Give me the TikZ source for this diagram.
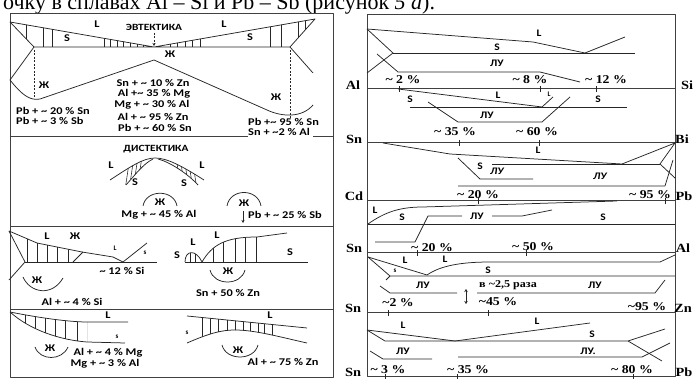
\documentclass[tikz,border=0pt]{standalone}
\usepackage{fontspec}
\setmainfont{Carlito}
\newfontfamily\timesfont{Liberation Serif}
\usetikzlibrary{arrows.meta}
\newcommand{\tld}{\textasciitilde}

\tikzset{
  txt/.style={font=\bfseries\fontsize{10.3}{10.3}\selectfont, inner sep=0pt, xscale=1.2},
  sm/.style={font=\bfseries\fontsize{7}{7}\selectfont, inner sep=0pt},
  elem/.style={font=\timesfont\bfseries\fontsize{12.5}{12.5}\selectfont, inner sep=0pt, xscale=1.15},
  pct/.style={font=\timesfont\bfseries\fontsize{12}{12}\selectfont, inner sep=0pt, xscale=1.15},
  zone/.style={font=\bfseries\fontsize{10}{10}\selectfont, inner sep=0pt, xscale=1.15},
  frm/.style={line width=1pt, black!75},
  crv/.style={line width=0.75pt, black!85},
  htc/.style={line width=0.55pt, black!85},
  dsh/.style={crv, dash pattern=on 2pt off 1.5pt},
}

\begin{document}
\begin{tikzpicture}[x=1pt, y=-1pt, line join=round]
  \useasboundingbox (0,0) rectangle (697,379);
  \clip (0,0) rectangle (697,379);
  \node[font=\timesfont\fontsize{22}{22}\selectfont, anchor=base west, inner sep=0pt] (caption) at (3,10) {очку в сплавах Al – Si и Pb – Sb (рисунок \textit{5 а}).};

  \draw[frm] (10,14) rectangle (333,378);
  \draw[frm] (10,137) -- (248,137) (313,137) -- (333,137);
  \draw[frm] (10,227) -- (333,227);
  \draw[frm] (10,310) -- (333,310);

  \draw[crv] (10,22) -- (154,47) -- (315,19) -- (290,47) -- (34,47) -- cycle;
  \draw[crv] (34,47) -- (10,80);
  \draw[crv] (290,47) -- (313,73);
  \draw[crv] (10,80) .. controls (22,95) and (30,101) .. (40,99) -- (154,60) -- (267,110) .. controls (282,117) and (302,118) .. (313,105);
  \draw[dsh] (34,50) -- (34,99);
  \draw[dsh] (290,50) -- (290,120);
  \draw[dsh, -{Stealth[length=3pt,width=3pt]}] (154,33) -- (154,46);
  \begin{scope}
    \clip (10,22) -- (154,47) -- (34,47) -- cycle;
    \foreach \x in {26,43,52,104,110,117,123,130,137,143}
      \draw[htc] (\x,15) -- (\x,50);
  \end{scope}
  \begin{scope}
    \clip (315,19) -- (154,47) -- (290,47) -- cycle;
    \foreach \x in {170,177,185,192,200,270,281,298,305}
      \draw[htc] (\x,15) -- (\x,50);
  \end{scope}
  \node[txt, font=\bfseries\fontsize{9.5}{9.5}\selectfont] (eut) at (154,27) {ЭВТЕКТИКА};
  \node[txt] (liqa) at (97,24) {L};
  \node[txt] (sola) at (67,38) {S};
  \node[txt] (liqb) at (224,24) {L};
  \node[txt] (solb) at (250,37) {S};
  \node[txt] (zha) at (170,54) {Ж};
  \node[txt] (zhb) at (44,85) {Ж};
  \node[txt] (zhc) at (276,97) {Ж};
  \node[txt, anchor=west] (pbsn) at (16,111) {Pb + \tld{} 20 \% Sn};
  \node[txt, anchor=west] (pbsb) at (16,121) {Pb + \tld{} 3 \% Sb};
  \node[txt] (snzn) at (153,83) {Sn + \tld{} 10 \% Zn};
  \node[txt] (almg) at (154,94) {Al +\tld{} 35 \% Mg};
  \node[txt] (mgal) at (152,105) {Mg + \tld{} 30 \% Al};
  \node[txt] (alzn) at (153,117) {Al + \tld{} 95 \% Zn};
  \node[txt] (pbsnb) at (155,128) {Pb + \tld{} 60 \% Sn};
  \node[txt, anchor=west] (pbsnc) at (248,122) {Pb +\tld{} 95 \% Sn};
  \node[txt, anchor=west] (snal) at (248,132) {Sn + \tld{}2 \% Al};

  \node[txt, font=\bfseries\fontsize{9.5}{9.5}\selectfont] (dist) at (156,149) {ДИСТЕКТИКА};
  \draw[crv] (110,180) .. controls (130,167) and (143,158) .. (155,158) .. controls (167,158) and (182,166) .. (204,180);
  \draw[crv] (126,185) .. controls (135,175) and (143,164) .. (153,159);
  \draw[crv] (198,185) .. controls (188,174) and (170,162) .. (158,159);
  \begin{scope}
    \clip (110,180) .. controls (130,167) and (143,158) .. (155,158) -- (153,159) .. controls (143,164) and (135,175) .. (126,185) -- cycle;
    \foreach \x in {128,132,136,140}
      \draw[htc] (\x+3,150) -- (\x-3,190);
  \end{scope}
  \begin{scope}
    \clip (204,180) .. controls (182,166) and (167,158) .. (155,158) -- (158,159) .. controls (170,162) and (188,174) .. (198,185) -- cycle;
    \foreach \x in {178,182,186,190,194}
      \draw[htc] (\x-3,150) -- (\x+3,190);
  \end{scope}
  \node[txt] (liqc) at (111,165) {L};
  \node[txt] (liqd) at (202,165) {L};
  \node[txt] (solc) at (135,182) {S};
  \node[txt] (sold) at (184,183) {S};
  \draw[crv] (143,206) .. controls (146,189) and (174,189) .. (177,206);
  \draw[crv] (227,206) .. controls (230,188) and (258,188) .. (261,206);
  \node[txt] (zhd) at (160,202) {Ж};
  \node[txt] (zhe) at (244,203) {Ж};
  \node[txt] (mgalb) at (159,215) {Mg + \tld{} 45 \% Al};
  \node[txt] (pbsbb) at (285,215) {Pb + \tld{} 25 \% Sb};
  \draw[crv, -{Stealth[length=3pt,width=3pt]}] (243,211) -- (243,223);

  \draw[crv] (9,231) -- (37,243) -- (82,252) -- (113,257) -- (123,262) -- (147,243);
  \draw[crv] (9,231) -- (25,262) -- (9,280);
  \draw[crv] (25,262) -- (157,262);
  \draw[crv] (73,262) -- (83,252);
  \begin{scope}
    \clip (9,231) -- (37,243) -- (82,252) -- (73,262) -- (25,262) -- cycle;
    \foreach \x in {27,37,47,57,68}
      \draw[htc] (\x,228) -- (\x,265);
  \end{scope}
  \draw[crv] (23,277) .. controls (30,293) and (52,297) .. (63,278);
  \node[txt] (liqe) at (47,236) {L};
  \node[txt] (zhf) at (75,236) {Ж};
  \node[sm] (liqf) at (115,248) {L};
  \node[sm] (sole) at (145,253) {s};
  \node[txt] (alsi) at (122,271) {\tld{} 12 \% Si};
  \node[txt] (zhg) at (37,280) {Ж};
  \node[txt] (alsib) at (72,302) {Al + \tld{} 4 \% Si};

  \draw[crv] (185,262) -- (308,262);
  \draw[crv] (185,262) .. controls (185,250) and (196,249) .. (202,262) .. controls (212,245) and (225,237) .. (257,237) -- (287,233);
  \begin{scope}
    \clip (185,262) .. controls (185,250) and (196,249) .. (202,262) .. controls (212,245) and (225,237) .. (257,237) -- (257,262) -- cycle;
    \foreach \x in {190,195,213,223,235,245,256}
      \draw[htc] (\x,228) -- (\x,265);
  \end{scope}
  \draw[crv] (210,270) .. controls (214,286) and (241,286) .. (245,270);
  \node[txt] (liqg) at (193,242) {L};
  \node[txt] (liqh) at (217,235) {L};
  \node[txt] (solf) at (177,255) {S};
  \node[txt] (solg) at (290,252) {S};
  \node[txt] (zhh) at (228,271) {Ж};
  \node[txt] (snznb) at (228,293) {Sn + 50 \% Zn};

  \draw[crv] (10,312) .. controls (40,318) and (70,322) .. (87,322) -- (128,322);
  \draw[crv] (10,312) .. controls (30,330) and (60,340) .. (87,342) -- (125,343);
  \begin{scope}
    \clip (10,312) .. controls (40,318) and (70,322) .. (87,322) -- (87,342) .. controls (60,340) and (30,330) .. (10,312) -- cycle;
    \foreach \x in {25,35,45,55,65,77,87}
      \draw[htc] (\x,310) -- (\x,346);
  \end{scope}
  \draw[crv] (35,347) .. controls (40,361) and (62,361) .. (68,347);
  \node[txt] (liqi) at (108,315) {L};
  \node[sm] (solh) at (117,337) {s};
  \node[txt] (zhi) at (50,348) {Ж};
  \node[txt] (almgb) at (108,353) {Al + \tld{} 4 \% Mg};
  \node[txt] (mgalc) at (105,364) {Mg + \tld{} 3 \% Al};

  \draw[crv] (187,316) -- (307,328);
  \draw[crv] (187,343) .. controls (210,333) and (222,330) .. (235,330) .. controls (255,330) and (280,337) .. (307,343);
  \begin{scope}
    \clip (187,316) -- (307,328) -- (307,343) .. controls (280,337) and (255,330) .. (235,330) .. controls (222,330) and (210,333) .. (187,343) -- cycle;
    \foreach \x in {202,210,218,227,235,243,250,258,264,272}
      \draw[htc] (\x,310) -- (\x,346);
  \end{scope}
  \draw[crv] (222,345) .. controls (226,361) and (254,361) .. (258,345);
  \node[txt] (liqj) at (270,315) {L};
  \node[sm] (soli) at (187,333) {s};
  \node[txt] (zhj) at (238,350) {Ж};
  \node[txt] (alznb) at (283,362) {Al + \tld{} 75 \% Zn};

  \draw[frm] (367,15) rectangle (675,377);
  \foreach \y in {89,143,201,253,313}
    \draw[frm] (367,\y) -- (675,\y);

  \draw[crv] (367,29) -- (533,42) -- (585,53) -- (625,37);
  \draw[crv] (367,29) -- (393,53) -- (367,73);
  \draw[crv] (393,53) -- (635,53);
  \draw[crv] (377,54) -- (398,72) -- (540,72) -- (580,82);
  \node[zone] (alsiL) at (539,33) {L};
  \node[zone] (alsiS) at (497,47) {S};
  \node[zone] (alsiLU) at (497,63) {ЛУ};
  \foreach \x in {399,540,596}
    \draw[crv] (\x,86) -- (\x,92);
  \node[pct] (alsia) at (403,80) {\tld{} 2 \%};
  \node[pct] (alsib) at (530,80) {\tld{} 8 \%};
  \node[pct] (alsic) at (606,80) {\tld{} 12 \%};
  \node[elem] (al) at (353,85) {Al};
  \node[elem] (si) at (687,85) {Si};

  \draw[crv] (398,89) -- (542,107) -- (553,97);
  \draw[crv] (410,107) -- (627,107);
  \draw[crv] (570,97) -- (542,122) -- (458,122) -- (428,102);
  \node[zone] (snbiS) at (410,99) {S};
  \node[zone] (snbiL) at (498,95) {L};
  \node[sm] (snbiLb) at (549,94) {L};
  \node[zone] (snbiSb) at (598,99) {S};
  \node[zone] (snbiLU) at (487,115) {ЛУ};
  \foreach \x in {459,539}
    \draw[crv] (\x,140) -- (\x,146);
  \node[pct] (snbia) at (455,132) {\tld{} 35 \%};
  \node[pct] (snbib) at (537,132) {\tld{} 60 \%};
  \node[elem] (sna) at (354,139) {Sn};
  \node[elem] (bi) at (682,139) {Bi};

  \draw[crv] (383,143) -- (450,154) -- (622,164) -- (675,143) -- (660,164) -- (675,178);
  \draw[crv] (492,164) -- (660,164);
  \draw[crv] (673,160) -- (665,186) -- (458,186);
  \draw[crv] (458,158) -- (480,179) -- (533,179);
  \node[zone] (cdpbL) at (538,150) {L};
  \node[zone] (cdpbS) at (480,166) {S};
  \node[zone, font=\bfseries\itshape\fontsize{10}{10}\selectfont] (cdpbLU) at (497,171) {ЛУ};
  \node[zone, font=\bfseries\itshape\fontsize{10}{10}\selectfont] (cdpbLUb) at (600,176) {ЛУ};
  \foreach \x in {478,665}
    \draw[crv] (\x,198) -- (\x,204);
  \node[pct] (cdpba) at (478,195) {\tld{} 20 \%};
  \node[pct] (cdpbb) at (650,195) {\tld{} 95 \%};
  \node[elem] (cd) at (354,196) {Cd};
  \node[elem] (pba) at (684,196) {Pb};

  \draw[crv] (368,224) .. controls (385,212) and (400,207) .. (423,207) -- (617,201);
  \draw[crv] (368,224) -- (675,224);
  \draw[crv] (375,242) -- (415,242) -- (428,216) -- (462,216);
  \draw[crv] (492,216) -- (522,216) -- (552,210);
  \node[zone] (snalL) at (375,210) {L};
  \node[zone] (snalS) at (402,217) {S};
  \node[zone] (snalLU) at (477,216) {ЛУ};
  \node[zone] (snalSb) at (603,217) {S};
  \foreach \x in {417,526}
    \draw[crv] (\x,250) -- (\x,256);
  \node[pct] (snala) at (432,248) {\tld{} 20 \%};
  \node[pct] (snalb) at (533,247) {\tld{} 50 \%};
  \node[elem] (snb) at (354,248) {Sn};
  \node[elem] (alb) at (683,248) {Al};

  \draw[crv] (368,257) -- (427,275) .. controls (440,266) and (460,262) .. (490,262) -- (660,262) -- (675,255);
  \draw[crv] (368,257) -- (390,276) -- (675,276);
  \draw[crv] (390,276) -- (386,280);
  \draw[crv] (380,286) -- (390,293) -- (457,293);
  \draw[crv] (477,293) -- (655,293) -- (665,280);
  \draw[crv, {Stealth[length=3pt,width=3.5pt]}-{Stealth[length=3pt,width=3.5pt]}] (466,289) -- (466,304);
  \node[zone] (snznL) at (405,260) {L};
  \node[zone] (snznLb) at (445,259) {L};
  \node[sm] (snzns) at (395,271) {s};
  \node[zone] (snznS) at (488,270) {S};
  \node[zone] (snznLU) at (423,285) {ЛУ};
  \node[zone] (snznLUb) at (595,285) {ЛУ};
  \node[pct, font=\timesfont\bfseries\fontsize{10.5}{10.5}\selectfont] (times) at (508,285) {в \tld2,5 раза};
  \foreach \x in {388,488}
    \draw[crv] (\x,310) -- (\x,316);
  \node[pct] (snzna) at (398,303) {\tld2 \%};
  \node[pct] (snznb) at (498,302) {\tld45 \%};
  \node[pct] (snznc) at (647,307) {\tld95 \%};
  \node[elem] (snc) at (353,308) {Sn};
  \node[elem] (zn) at (683,308) {Zn};

  \draw[crv] (367,330) -- (455,341) -- (590,323);
  \draw[crv] (367,330) -- (385,341) -- (628,341) -- (665,329);
  \draw[crv] (628,341) -- (662,361);
  \draw[crv] (370,351) -- (383,359) -- (432,359);
  \draw[crv] (458,357) -- (642,357) -- (670,343);
  \node[zone] (snpbL) at (403,325) {L};
  \node[zone] (snpbLb) at (537,321) {L};
  \node[zone] (snpbS) at (592,334) {S};
  \node[zone] (snpbLU) at (403,351) {ЛУ};
  \node[zone] (snpbLUb) at (588,351) {ЛУ.};
  \foreach \x in {385,457,633}
    \draw[crv] (\x,374) -- (\x,379);
  \node[pct] (snpba) at (388,370) {\tld{} 3 \%};
  \node[pct] (snpbb) at (468,370) {\tld{} 35 \%};
  \node[pct] (snpbc) at (632,370) {\tld{} 80 \%};
  \node[elem] (snd) at (353,372) {Sn};
  \node[elem] (pbb) at (684,372) {Pb};
\end{tikzpicture}
\end{document}
